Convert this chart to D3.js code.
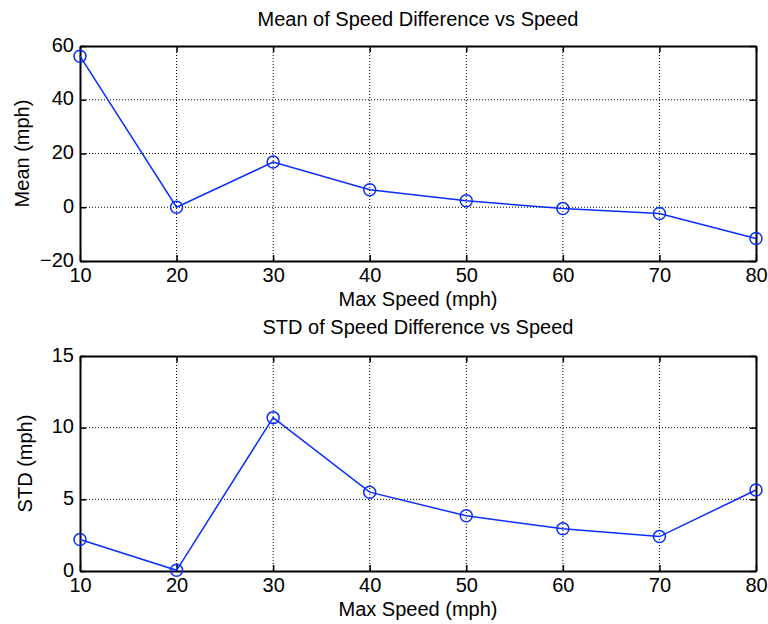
<!DOCTYPE html>
<html><head><meta charset="utf-8">
<script src="https://cdn.jsdelivr.net/npm/d3@7"></script>
<style>
body{margin:0;background:#fff;}
text{font-family:"Liberation Sans",Arial,Helvetica,sans-serif;fill:#000;}
</style></head>
<body><svg id="c" width="768" height="624"></svg>
<script>
const speeds = [10,20,30,40,50,60,70,80];
const meanValues = [56.2,0,16.8,6.5,2.4,-0.5,-2.3,-11.6];
const stdValues = [2.2,0.05,10.7,5.5,3.85,2.95,2.4,5.65];
const xTicks = [10,20,30,40,50,60,70,80];
const meanTicks = [-20,0,20,40,60];
const stdTicks = [0,5,10,15];

const svg = d3.select("#c");
const L = 80, R = 756, FS = 20;

function panel(cfg){
  const x = d3.scaleLinear().domain([10,80]).range([L,R]);
  const y = d3.scaleLinear().domain(cfg.domain).range([cfg.bottom,cfg.top]);
  const g = svg.append("g");
  g.selectAll(".gx").data(cfg.xt.slice(1,-1)).enter().append("line")
    .attr("x1",d=>x(d)).attr("x2",d=>x(d)).attr("y1",cfg.top).attr("y2",cfg.bottom)
    .attr("stroke","#000").attr("stroke-width",1).attr("stroke-dasharray","1,2");
  g.selectAll(".gy").data(cfg.yt.slice(1,-1)).enter().append("line")
    .attr("y1",d=>y(d)).attr("y2",d=>y(d)).attr("x1",L).attr("x2",R)
    .attr("stroke","#000").attr("stroke-width",1).attr("stroke-dasharray","1,2");
  const xa = g.append("g").attr("transform",`translate(0,${cfg.bottom})`)
    .call(d3.axisBottom(x).tickValues(cfg.xt).tickSizeInner(-6).tickSizeOuter(0).tickPadding(7));
  const xt = g.append("g").attr("transform",`translate(0,${cfg.top})`)
    .call(d3.axisTop(x).tickValues(cfg.xt).tickSizeInner(-6).tickSizeOuter(0).tickFormat(""));
  const ya = g.append("g").attr("transform",`translate(${L},0)`)
    .call(d3.axisLeft(y).tickValues(cfg.yt).tickSizeInner(-6).tickSizeOuter(0).tickPadding(6));
  const yr = g.append("g").attr("transform",`translate(${R},0)`)
    .call(d3.axisRight(y).tickValues(cfg.yt).tickSizeInner(-6).tickSizeOuter(0).tickFormat(""));
  [xa,xt,ya,yr].forEach(a=>{
    a.select(".domain").attr("stroke","#000").attr("stroke-width",2);
    a.selectAll(".tick line").attr("stroke","#000").attr("stroke-width",1.5);
    a.selectAll("text").attr("font-size",FS).attr("font-family","Liberation Sans, Arial, sans-serif").attr("fill","#000");
  });
  ya.selectAll("text").attr("dy","0.26em");
  const pts = speeds.map((s,i)=>[s,cfg.values[i]]);
  g.append("path").datum(pts)
    .attr("d",d3.line().x(d=>x(d[0])).y(d=>y(d[1])))
    .attr("fill","none").attr("stroke","#0a2dff").attr("stroke-width",1.5);
  g.selectAll(".pt").data(pts).enter().append("circle")
    .attr("cx",d=>x(d[0])).attr("cy",d=>y(d[1])).attr("r",6)
    .attr("fill","none").attr("stroke","#0a2dff").attr("stroke-width",1.5);
  g.append("text").attr("x",(L+R)/2).attr("y",cfg.titleY).attr("text-anchor","middle")
    .attr("font-size",FS).text(cfg.title);
  g.append("text").attr("x",(L+R)/2).attr("y",cfg.bottom+45).attr("text-anchor","middle")
    .attr("font-size",FS).text("Max Speed (mph)");
  const yc = (cfg.top+cfg.bottom)/2;
  g.append("text").attr("transform",`translate(${cfg.ylx},${yc}) rotate(-90)`)
    .attr("text-anchor","middle").attr("font-size",FS).text(cfg.ylabel);
}

panel({top:46,bottom:261,domain:[-20,60],values:meanValues,xt:xTicks,yt:meanTicks,
  title:"Mean of Speed Difference vs Speed",titleY:26,ylabel:"Mean (mph)",ylx:29});
panel({top:356,bottom:571,domain:[0,15],values:stdValues,xt:xTicks,yt:stdTicks,
  title:"STD of Speed Difference vs Speed",titleY:334,ylabel:"STD (mph)",ylx:32});
</script></body></html>
